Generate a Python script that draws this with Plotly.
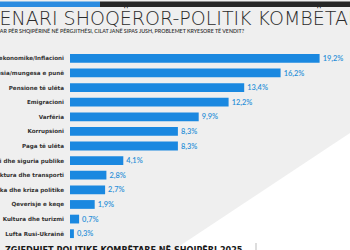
import plotly.graph_objects as go

categories = [
    "Kriza ekonomike/Inflacioni",
    "Papunësia/mungesa e punë",
    "Pensione të ulëta",
    "Emigracioni",
    "Varfëria",
    "Korrupsioni",
    "Paga të ulëta",
    "Shëndeti dhe siguria publike",
    "Infrastruktura dhe transporti",
    "Politika dhe kriza politike",
    "Qeverisje e keqe",
    "Kultura dhe turizmi",
    "Lufta Rusi-Ukrainë",
]
values = [19.2, 16.2, 13.4, 12.2, 9.9, 8.3, 8.3, 4.1, 2.8, 2.7, 1.9, 0.7, 0.3]

title_text = "SKENARI SHOQËROR-POLITIK KOMBËTAR"
subtitle_text = "DUKE MENDUAR PËR SHQIPËRINË NË PËRGJITHËSI, CILAT JANË SIPAS JUSH, PROBLEMET KRYESORE TË VENDIT?"
footer_text = "ZGJEDHJET POLITIKE KOMBËTARE NË SHQIPËRI 2025"

W, H = 350, 250
ML, MR, MT, MB = 70, 0, 51, 9
PW, PH = W - ML - MR, H - MT - MB


def px(x):
    return (x - ML) / PW


def py(y):
    return (H - MB - y) / PH


fig = go.Figure(
    go.Bar(
        x=values,
        y=categories,
        orientation="h",
        marker=dict(color="#1a88e0", line=dict(width=0)),
        texttemplate="%{x:.1f}%",
        textposition="outside",
        textfont=dict(family="Lato", size=8.5, color="#2a8fd8", weight=600),
        cliponaxis=False,
        width=0.6,
    )
)

shapes = [
    dict(type="path", xref="paper", yref="paper",
         path=f"M {px(350)} {py(133)} L {px(350)} {py(251)} L {px(172)} {py(251)} Z",
         fillcolor="white", line=dict(width=0), layer="below"),
    dict(type="rect", xref="paper", yref="paper", x0=px(0), x1=px(100), y0=py(7), y1=py(1.5),
         fillcolor="#2a8be0", line=dict(width=0)),
    dict(type="rect", xref="paper", yref="paper", x0=px(100), x1=px(351), y0=py(7), y1=py(1.5),
         fillcolor="#262626", line=dict(width=0)),
    dict(type="line", xref="paper", yref="paper", x0=px(256), x1=px(256), y0=py(243), y1=py(251),
         line=dict(color="#bbbbbb", width=1)),
]

annotations = [
    dict(text=title_text, xref="paper", yref="paper", x=px(168), y=py(18),
         xanchor="center", yanchor="middle", showarrow=False,
         font=dict(family="DejaVu Sans", size=19, color="#2b2b2b", weight=200)),
    dict(text=subtitle_text, xref="paper", yref="paper", x=px(247), y=py(30.5),
         xanchor="right", yanchor="middle", showarrow=False,
         font=dict(family="Lato", size=5.3, color="#333333", weight=600)),
    dict(text=footer_text, xref="paper", yref="paper", x=px(3), y=py(243),
         xanchor="left", yanchor="top", showarrow=False,
         font=dict(family="DejaVu Sans Condensed", size=9, color="#1a1a1a", weight="bold")),
]

fig.update_layout(
    width=W, height=H,
    margin=dict(l=ML, r=MR, t=MT, b=MB, pad=0, autoexpand=False),
    paper_bgcolor="#efefef",
    plot_bgcolor="rgba(0,0,0,0)",
    separators=",.",
    showlegend=False,
    bargap=0.4,
    shapes=shapes,
    annotations=annotations,
    xaxis=dict(range=[0, PW / 13.0], visible=False, fixedrange=True),
    yaxis=dict(autorange="reversed", showgrid=False, zeroline=False, showline=False,
               ticks="", ticklabelstandoff=5, automargin=False,
               tickfont=dict(family="DejaVu Sans", size=5.6, color="#333333", weight=700)),
)

fig.write_html("out.html", config={"displayModeBar": False})
